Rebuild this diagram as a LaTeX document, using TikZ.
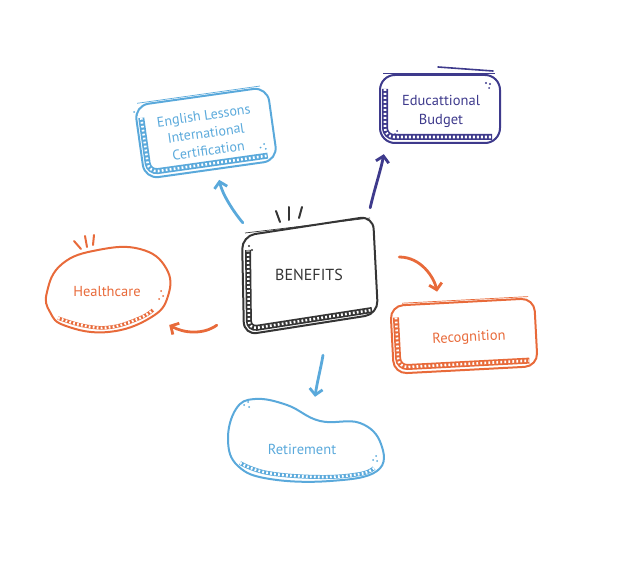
\documentclass[tikz,border=0pt]{standalone}
\usepackage{fontspec}
\setmainfont{PT Sans}
\usetikzlibrary{arrows.meta,calc,shapes.geometric}
\definecolor{cblue}{HTML}{5AA9DB}
\definecolor{cpurple}{HTML}{3E3A8C}
\definecolor{corange}{HTML}{E86A3A}
\definecolor{cdark}{HTML}{353535}
\begin{document}
\begin{tikzpicture}[x=1pt,y=-1pt,
  outline/.style={draw=#1, line width=2pt, line join=round},
  sketch/.style={draw=#1, line width=0.7pt},
  band/.style={draw=#1, line width=6pt, line cap=butt,
    postaction={draw=white, line width=2.6pt, dash pattern=on 1.8pt off 2.2pt}},
  tick/.style={draw=#1, line width=2pt, line cap=round},
  arr/.style={draw=#1, line width=2.8pt, line cap=round,
    -{Straight Barb[length=6pt,width=13pt]}},
  lbl/.style={draw=none, align=center, text=#1},
  dot/.style={fill=#1, draw=none}]
\useasboundingbox (0,0) rectangle (629,572);

% ---------- nodes (invisible frames carrying the text) ----------
\node[lbl=cdark, rectangle, minimum width=124, minimum height=108,
  font=\fontsize{16}{18}\selectfont] (ben) at (309,275) {BENEFITS};
\node[lbl=cblue, rectangle, rotate=8, minimum width=134, minimum height=74,
  font=\fontsize{14}{17.5}\selectfont] (eng) at (206,133)
  {English Lessons\\International\\Certification};
\node[lbl=cpurple, rectangle, minimum width=120, minimum height=68,
  font=\fontsize{14.5}{19}\selectfont] (edu) at (441,111) {Educattional\\Budget};
\node[lbl=corange, rectangle, rotate=3, minimum width=144, minimum height=68,
  font=\fontsize{14.5}{16}\selectfont] (rec) at (469,338) {Recognition};
\node[lbl=corange, ellipse, minimum width=124, minimum height=86,
  font=\fontsize{14.5}{16}\selectfont] (hea) at (107,292) {Healthcare};
\node[lbl=cblue, ellipse, minimum width=156, minimum height=80,
  font=\fontsize{14.5}{16}\selectfont] (ret) at (302,449) {Retirement};

% ---------- BENEFITS shape ----------
\draw[outline=cdark, rounded corners=13] (242,236) -- (373,216) -- (378,314) -- (244,335) -- cycle;
\draw[sketch=cdark, rounded corners=13] (245,233) -- (370,218);
\draw[band=cdark, rounded corners=8] (248,250) -- (249,329) -- (372,310);
\draw[tick=cdark] (276,211) -- (280,222);
\draw[tick=cdark] (289,207) -- (289,220);
\draw[tick=cdark] (302,207) -- (299,218);
\fill[dot=cdark] (249,246) circle (1.1) (252,250) circle (1.1) (248,251) circle (0.9);

% ---------- English box ----------
\begin{scope}[shift={(206,133)}, rotate=8]
  \draw[outline=cblue, rounded corners=14] (-67,-37) rectangle (67,37);
  \draw[sketch=cblue, rounded corners=14] (-64,-39) -- (60,-39);
  \draw[band=cblue, rounded corners=9] (-62,-24) -- (-62,31) -- (58,31);
  \fill[dot=cblue] (52,22) circle (1) (56,19) circle (1) (57,24) circle (1);
\end{scope}
\fill[dot=cblue] (134,112) circle (1) (137,115) circle (0.9);

% ---------- Educational Budget box ----------
\begin{scope}[shift={(440,109)}]
  \draw[outline=cpurple, rounded corners=15] (-60,-34) rectangle (60,34);
  \draw[sketch=cpurple, rounded corners=15] (-57,-36) -- (55,-36);
  \draw[band=cpurple, rounded corners=9] (-55,-20) -- (-55,28) -- (52,28);
  \draw[line width=1.6pt, cpurple, line cap=round] (-2,-42) -- (53,-38);
  \fill[dot=cpurple] (46,-26) circle (1.1) (50,-25) circle (1.1) (49,-21) circle (1);
  \fill[dot=cpurple] (-43,22) circle (1) (-41,26) circle (1) (-45,25) circle (0.9);
\end{scope}

% ---------- Recognition box ----------
\begin{scope}[shift={(464,336)}, rotate=3]
  \draw[outline=corange, rounded corners=13] (-72,-34) rectangle (72,34);
  \draw[sketch=corange, rounded corners=13] (-60,-36) -- (66,-36);
  \draw[band=corange, rounded corners=9] (-67,-22) -- (-67,28) -- (64,28);
\end{scope}

% ---------- Healthcare blob ----------
\draw[outline=corange] plot[smooth cycle, tension=0.75] coordinates
  {(47,292) (62,264) (98,250) (140,249) (166,268) (168,296) (150,318) (108,332) (66,326) (50,312)};
\draw[band=corange, line width=3.5pt] plot[smooth, tension=0.7] coordinates
  {(58,318) (85,326) (112,327) (140,318) (153,310)};
\draw[tick=corange] (74,241) -- (81,249);
\draw[tick=corange] (85,236) -- (87,247);
\draw[tick=corange] (94,235) -- (93,245);
\fill[dot=corange] (161,291) circle (1) (163,296) circle (1) (159,299) circle (1);

% ---------- Retirement blob ----------
\draw[outline=cblue] plot[smooth cycle, tension=0.7] coordinates
  {(228,440) (236,409) (255,399) (287,405) (320,421) (360,423) (381,444) (377,471) (330,481) (270,479) (238,466)};
\draw[band=cblue, line width=4pt] plot[smooth, tension=0.7] coordinates
  {(240,463) (268,473) (320,477) (360,474) (374,468)};
\fill[dot=cblue] (244,405) circle (1) (248,402) circle (1) (249,407) circle (1);
\fill[dot=cblue] (376,456) circle (1) (373,460) circle (1) (377,461) circle (1);

% ---------- arrows ----------
\draw[arr=cblue] ($(ben.north west)+(-4,2)$) .. controls +(-10,-12) and +(3,14) .. ($(eng.south)+(8,10)$);
\draw[arr=cpurple] ($(ben.north east)+(-1,-13)$) .. controls +(4,-18) and +(-3,16) .. ($(edu.south west)+(3,9)$);
\draw[arr=corange] ($(ben.east)+(28,-18)$) .. controls +(22,0) and +(-3,-14) .. ($(rec.north west)+(42,-16)$);
\draw[arr=cblue] ($(ben.south)+(14,26)$) .. controls +(-2,12) and +(2,-14) .. ($(ret.north)+(13,-12)$);
\draw[arr=corange] ($(ben.south west)+(-30,-4)$) .. controls +(-14,10) and +(14,8) .. ($(hea.east)+(0,33)$);
\end{tikzpicture}
\end{document}
